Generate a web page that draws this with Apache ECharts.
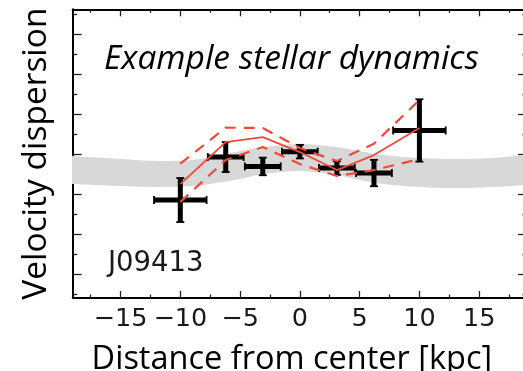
<!DOCTYPE html>
<html>
<head>
<meta charset="utf-8">
<script src="https://cdn.jsdelivr.net/npm/echarts@6/dist/echarts.min.js"></script>
<style>html,body{margin:0;padding:0;background:#fff;}#c{width:523px;height:371px;}</style>
</head>
<body>
<div id="c"></div>
<script>
// ---- data ----
const xMajorTicks = [-15, -10, -5, 0, 5, 10, 15];
const xMinorTicks = [-17.5, -12.5, -7.5, -2.5, 2.5, 7.5, 12.5, 17.5];
const yMajorTicks = [0, 1, 2, 3, 4, 5, 6];
const yMinorTicks = [-0.5, 0.5, 1.5, 2.5, 3.5, 4.5, 5.5, 6.5];

const obsX    = [-10, -6.2, -3.1, 0, 3.1, 6.2, 10];
const obsXErr = [2.2, 1.5, 1.5, 1.5, 1.5, 1.5, 2.2];
const obsY    = [1.85, 2.925, 2.69, 3.06, 2.65, 2.525, 3.59];
const obsYErr = [0.55, 0.375, 0.22, 0.17, 0.17, 0.33, 0.78];

const modelMid  = [2.25, 3.3, 3.425, 3.05, 2.6, 2.975, 3.65];
const modelHigh = [2.76, 3.66, 3.65, 3.15, 2.825, 3.26, 4.35];
const modelLow  = [1.8, 2.85, 3.175, 2.75, 2.45, 2.6, 2.875];

const bandX    = [-22, -19, -15, -12, -9, -7, -5, -3, 0, 3, 5, 7, 10, 13, 16, 19, 22];
const bandLow  = [2.27, 2.25, 2.2, 2.175, 2.2, 2.275, 2.375, 2.5, 2.575, 2.475, 2.35, 2.25, 2.175, 2.15, 2.175, 2.225, 2.25];
const bandHigh = [2.97, 2.95, 2.875, 2.825, 2.85, 2.95, 3.075, 3.175, 3.25, 3.175, 3.075, 2.975, 2.9, 2.875, 2.9, 2.975, 3.0];

const xTitle = 'Distance from center [kpc]';
const yTitle = 'Velocity dispersion';
const panelTitle = 'Example stellar dynamics';
const objectName = 'J09413';

// ---- chart ----
const chart = echarts.init(document.getElementById('c'), null, {renderer: 'canvas'});
const RED = '#ee4a3c';
const XMIN = -19, XMAX = 19, YMIN = -0.6, YMAX = 6.62;

function xAx(pos, ticks, len, main) {
  return {
    type: 'value', position: pos, min: XMIN, max: XMAX,
    axisLine: {show: main, onZero: false, lineStyle: {color: '#000', width: 2}},
    axisTick: {show: true, inside: true, length: len, customValues: ticks, lineStyle: {color: '#222', width: 1.3}},
    axisLabel: {show: false},
    splitLine: {show: false}
  };
}
function yAx(pos, ticks, len, main) {
  return {
    type: 'value', position: pos, min: YMIN, max: YMAX,
    axisLine: {show: main, onZero: false, lineStyle: {color: '#000', width: 2}},
    axisTick: {show: true, inside: true, length: len, customValues: ticks, lineStyle: {color: '#222', width: 1.3}},
    axisLabel: {show: false},
    splitLine: {show: false}
  };
}

const xBottom = xAx('bottom', xMajorTicks, 7, true);
xBottom.axisLabel = {
  show: true, customValues: xMajorTicks, margin: 8,
  fontFamily: 'DejaVu Sans', fontSize: 25.5, color: '#1a1a1a',
  formatter: v => String(v).replace('-', '\u2212')
};
xBottom.name = xTitle;
xBottom.nameLocation = 'middle';
xBottom.nameGap = 45;
xBottom.nameTextStyle = {fontFamily: 'Open Sans', fontSize: 32.5, color: '#000', padding: [0, 16, 0, 0]};

const yLeft = yAx('left', yMajorTicks, 9, true);
yLeft.name = yTitle;
yLeft.nameLocation = 'middle';
yLeft.nameGap = 19;
yLeft.nameTextStyle = {fontFamily: 'Open Sans', fontSize: 33.5, color: '#000', padding: [0, 0, 0, 0]};

const errData = obsX.map((x, i) => [x, obsY[i], obsXErr[i], obsYErr[i]]);

const option = {
  animation: false,
  backgroundColor: '#fff',
  grid: {left: 72.7, right: -4, top: 9.3, bottom: 73, containLabel: false, outerBoundsMode: 'none'},
  xAxis: [
    xBottom,
    xAx('bottom', xMinorTicks, 3.5, false),
    xAx('top', xMajorTicks, 7, true),
    xAx('top', xMinorTicks, 3.5, false)
  ],
  yAxis: [
    yLeft,
    yAx('left', yMinorTicks, 4.5, false),
    yAx('right', yMajorTicks, 9, true),
    yAx('right', yMinorTicks, 4.5, false)
  ],
  graphic: [
    {type: 'text', left: 104, top: 42, z: 100,
     style: {text: panelTitle, font: 'italic 33.5px "Open Sans"', fill: '#000'}},
    {type: 'text', left: 108, top: 250, z: 100,
     style: {text: objectName, font: '27.5px "DejaVu Sans"', fill: '#1a1a1a'}}
  ],
  series: [
    {type: 'custom', data: [[bandX[0], bandLow[0]]], clip: true, silent: true, z: 1,
     renderItem: function (params, api) {
       const upper = bandX.map((x, i) => api.coord([x, bandHigh[i]]));
       const lower = bandX.map((x, i) => api.coord([x, bandLow[i]])).reverse();
       return {type: 'polygon', shape: {points: upper.concat(lower), smooth: 0.35},
               style: {fill: '#d8d8d8', stroke: null}};
     }},
    {type: 'custom', data: errData, z: 3,
     encode: {x: 0, y: 1},
     renderItem: function (params, api) {
       const x = api.value(0), y = api.value(1), xe = api.value(2), ye = api.value(3);
       const l = api.coord([x - xe, y]), r = api.coord([x + xe, y]);
       const t = api.coord([x, y + ye]), b = api.coord([x, y - ye]);
       const bar = {stroke: '#000', lineWidth: 5, lineCap: 'butt'};
       const cap = {stroke: '#000', lineWidth: 1.8, lineCap: 'butt'};
       const h = 4;
       return {type: 'group', children: [
         {type: 'line', shape: {x1: l[0], y1: l[1], x2: r[0], y2: r[1]}, style: bar},
         {type: 'line', shape: {x1: t[0], y1: t[1], x2: b[0], y2: b[1]}, style: bar},
         {type: 'line', shape: {x1: t[0] - h, y1: t[1], x2: t[0] + h, y2: t[1]}, style: cap},
         {type: 'line', shape: {x1: b[0] - h, y1: b[1], x2: b[0] + h, y2: b[1]}, style: cap},
         {type: 'line', shape: {x1: l[0], y1: l[1] - h, x2: l[0], y2: l[1] + h}, style: cap},
         {type: 'line', shape: {x1: r[0], y1: r[1] - h, x2: r[0], y2: r[1] + h}, style: cap}
       ]};
     }},
    {type: 'line', data: obsX.map((x, i) => [x, modelMid[i]]), symbol: 'none', z: 4,
     lineStyle: {color: RED, width: 1.8}},
    {type: 'line', data: obsX.map((x, i) => [x, modelHigh[i]]), symbol: 'none', z: 4,
     lineStyle: {color: RED, width: 2.2, type: [11, 8]}},
    {type: 'line', data: obsX.map((x, i) => [x, modelLow[i]]), symbol: 'none', z: 4,
     lineStyle: {color: RED, width: 2.2, type: [11, 8]}}
  ]
};
chart.setOption(option);
</script>
</body>
</html>
